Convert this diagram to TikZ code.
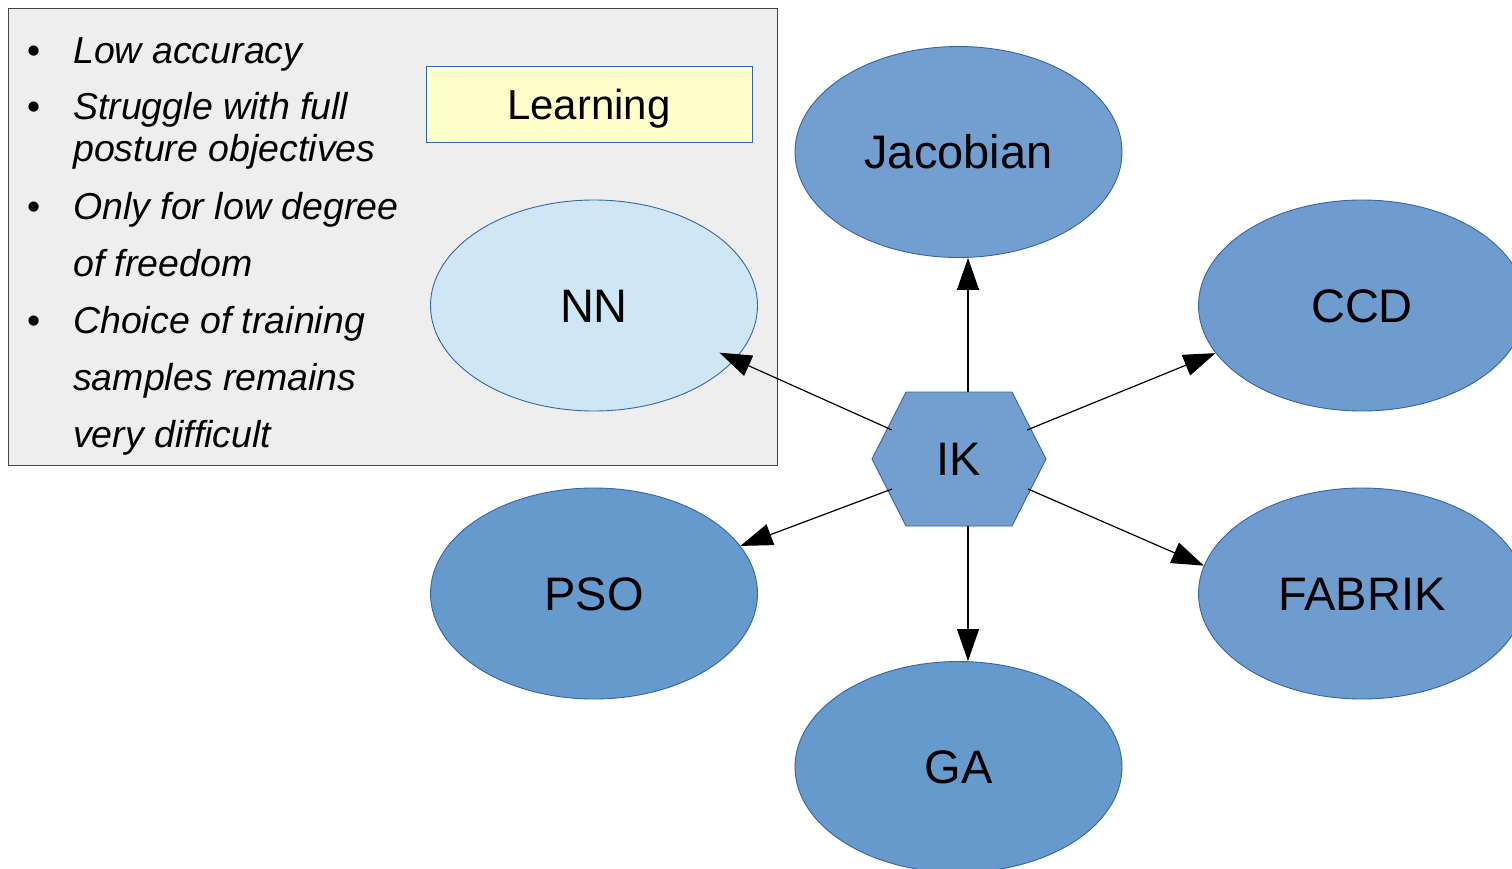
\documentclass[tikz,border=0pt]{standalone}
\usepackage{fontspec}
\setmainfont{Liberation Sans}
\usetikzlibrary{shapes.geometric,arrows.meta}

\definecolor{panelgray}{HTML}{EEEEEE}
\definecolor{panelline}{HTML}{444444}
\definecolor{noteyellow}{HTML}{FFFFCC}
\definecolor{edgeblue}{HTML}{3465A4}
\definecolor{paleblue}{HTML}{CFE6F4}
\definecolor{midblue}{HTML}{729FCF}
\definecolor{softblue}{HTML}{6E9CCE}
\definecolor{deepblue}{HTML}{6699CC}

\begin{document}
\begin{tikzpicture}[x=1pt,y=-1pt,
  method/.style={ellipse, draw=edgeblue, line width=0.9pt,
    minimum width=327pt, minimum height=211pt, inner sep=0pt,
    font=\fontsize{47}{47}\selectfont, text height=33.5pt, text depth=0pt},
  linetext/.style={anchor=base west, inner sep=0pt,
    font=\fontsize{37.5}{37.5}\selectfont\itshape},
  bulletmark/.style={anchor=base west, inner sep=0pt,
    font=\fontsize{37.5}{37.5}\selectfont},
  link/.style={-{Triangle[length=32pt,width=22pt]}, line width=1.2pt, black}
]
\useasboundingbox (0,0) rectangle (1512,868);

% drawbacks panel
\node (panel) [draw=panelline, fill=panelgray, line width=1.2pt,
  minimum width=769pt, minimum height=457pt, inner sep=0pt,
  anchor=north west] at (8,8) {};

\node (b1) [bulletmark] at (27,63) {\textbullet};
\node (b2) [bulletmark] at (27,119) {\textbullet};
\node (b3) [bulletmark] at (27,219) {\textbullet};
\node (b4) [bulletmark] at (27,333) {\textbullet};

\node (t1) [linetext] at (73,63) {Low accuracy};
\node (t2) [linetext] at (73,119) {Struggle with full};
\node (t3) [linetext] at (73,161) {posture objectives};
\node (t4) [linetext] at (73,219) {Only for low degree};
\node (t5) [linetext] at (73,276) {of freedom};
\node (t6) [linetext] at (73,333) {Choice of training};
\node (t7) [linetext] at (73,390) {samples remains};
\node (t8) [linetext] at (73,447) {very difficult};

\node (learn) [draw=edgeblue, fill=noteyellow, line width=0.9pt,
  minimum width=326pt, minimum height=76pt, inner sep=0pt,
  font=\fontsize{42}{42}\selectfont, text height=30pt, text depth=0pt]
  at (589,104) {Learning};

% methods
\node (nn)  [method, fill=paleblue] at (594,305.5) {NN};
\node (jac) [method, fill=midblue]  at (958.5,152) {Jacobian};
\node (ccd) [method, fill=softblue] at (1362,305.5) {CCD};
\node (pso) [method, fill=deepblue] at (594,593.5) {PSO};
\node (fab) [method, fill=softblue] at (1362,593.5) {FABRIK};
\node (ga)  [method, fill=deepblue] at (958.5,767) {GA};

% central hexagon
\draw[fill=midblue, draw=edgeblue, line width=0.9pt]
  (872,459) -- (906,392) -- (1012,392) -- (1046,459)
  -- (1012,526) -- (906,526) -- cycle;
\node (ik) [inner sep=0pt, font=\fontsize{47}{47}\selectfont,
  text height=33.5pt, text depth=0pt] at (959,459) {IK};

\coordinate (ikN)  at (968,392);
\coordinate (ikS)  at (968,526);
\coordinate (ikNW) at (892,430);
\coordinate (ikNE) at (1027,430);
\coordinate (ikSW) at (892,489);
\coordinate (ikSE) at (1028,489);

% connectors
\draw[link] (ikN) -- (jac.south -| ikN);
\draw[link] (ikS) -- (ga.north -| ikS);
\draw[link, shorten >=-17pt] (ikNW) -- (nn.-21);
\draw[link] (ikNE) -- (ccd.198);
\draw[link] (ikSW) -- (pso.18);
\draw[link] (ikSE) -- (fab.170);
\end{tikzpicture}
\end{document}
